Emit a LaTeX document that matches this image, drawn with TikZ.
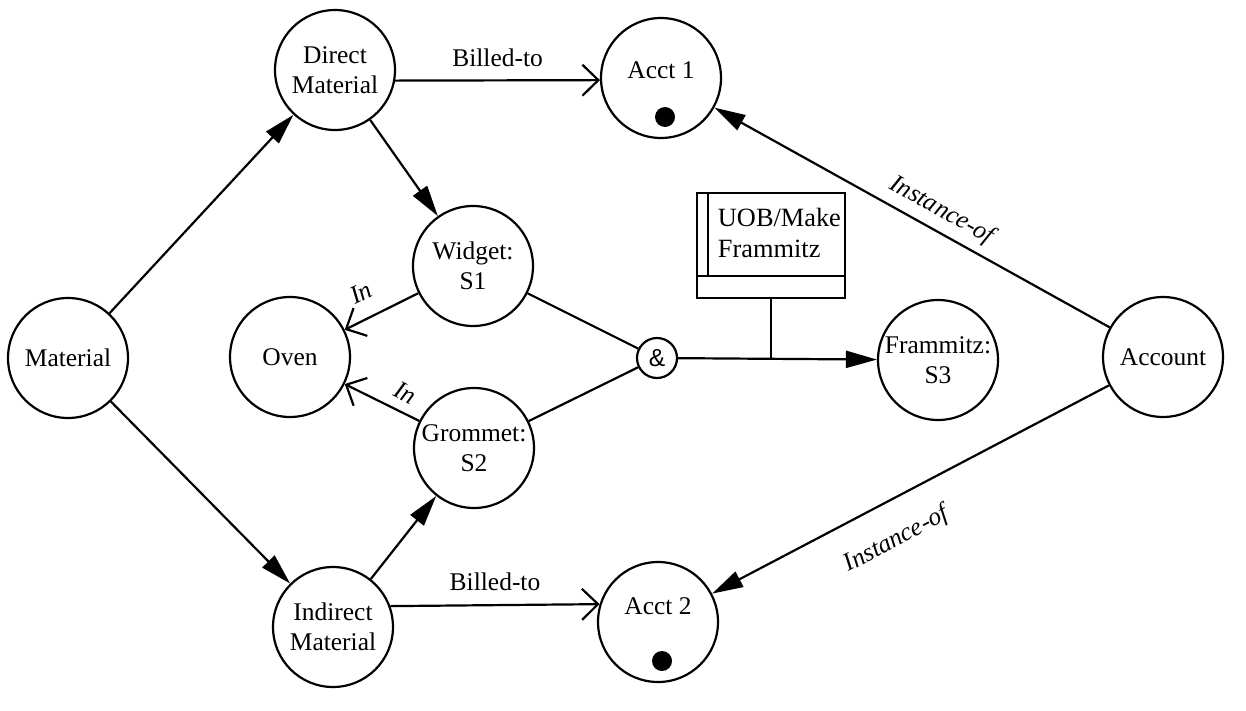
\documentclass[tikz,border=0pt]{standalone}
\usepackage{fontspec}
\setmainfont{Liberation Serif}
\newfontfamily\ampfont{Liberation Sans}
\usetikzlibrary{arrows.meta,calc}

\begin{document}
\begin{tikzpicture}[x=0.02cm,y=-0.02cm,line width=1.25pt,
    concept/.style={draw,circle,minimum size=2.4cm,inner sep=0pt,align=center,font=\fontsize{14.5}{17}\selectfont},
    andnode/.style={draw,circle,minimum size=0.8cm,inner sep=0pt,font=\ampfont\fontsize{14}{16}\selectfont},
    dot/.style={circle,fill,inner sep=0pt,minimum size=0.4cm},
    ref/.style={-{Triangle[length=0.62cm,width=0.34cm]}},
    revref/.style={{Triangle[length=0.62cm,width=0.34cm]}-},
    rel/.style={-{Straight Barb[length=0.32cm,width=0.62cm]}},
    revrel/.style={{Straight Barb[length=0.32cm,width=0.62cm]}-},
    lbl/.style={font=\fontsize{14.5}{17}\selectfont},
    ilbl/.style={font=\fontsize{14.5}{17}\selectfont\itshape}]
        \useasboundingbox (0,0) rectangle (1246,710);
        % concepts
        \node[concept] (mat) at (68,358) {Material};
        \node[concept] (dmat) at (335,70) {Direct\\Material};
        \node[concept] (imat) at (333,627) {Indirect\\Material};
        \node[concept] (widget) at (473,266) {Widget:\\S1};
        \node[concept] (oven) at (290,357) {Oven};
        \node[concept] (grommet) at (474,448) {Grommet:\\S2};
        \node[concept] (fram) at (938,360) {Frammitz:\\S3};
        \node[concept] (account) at (1163,357) {Account};
        \node[concept] (acct1) at (661,78) {};
        \node[lbl] (acct1t) at ($(acct1)+(0,-8)$) {Acct 1};
        \node[dot] (dot1) at ($(acct1)+(4,39)$) {};
        \node[concept] (acct2) at (658,622) {};
        \node[lbl] (acct2t) at ($(acct2)+(0,-16)$) {Acct 2};
        \node[dot] (dot2) at ($(acct2)+(4,39)$) {};
        \node[andnode] (amp) at (657,358) {\&};
        % process box
        \node[draw,minimum width=2.96cm,minimum height=2.1cm,inner sep=0pt] (uob) at (771,245.5) {};
        \draw ($(uob.south west)+(0,-23)$) -- ($(uob.south east)+(0,-23)$);
        \draw ($(uob.north west)+(12,0)$) -- ($(uob.south west)+(12,-23)$);
        \node[lbl,align=left,anchor=west,font=\fontsize{15}{17.5}\selectfont] (uobt) at (711,233) {UOB/Make\\Frammitz};
        % links
        \draw[ref] (mat) -- (dmat);
        \draw[ref] (mat) -- (imat);
        \draw[ref] (dmat) -- (widget);
        \draw[ref] (imat) -- (grommet);
        \draw[rel] (dmat.-10) -- node[lbl,above=4pt] {Billed-to} (acct1.182);
        \draw[rel] (imat.20) -- node[lbl,above=4pt] {Billed-to} (acct2.163);
        \draw[revrel] (oven) -- node[ilbl,sloped,above=6pt,pos=0.38] {In} (widget);
        \draw[revrel] (oven) -- node[ilbl,sloped,above=2pt,pos=0.7] {In} (grommet);
        \draw (widget) -- (amp);
        \draw (grommet) -- (amp);
        \draw[ref] (amp) -- (fram);
        \coordinate (join) at (uob.south |- amp);
        \draw (uob.south) -- (join);
        \draw[revref] (acct1) -- node[ilbl,sloped,above=1pt,pos=0.55] {Instance-of} (account);
        \draw[revref] (acct2) -- node[ilbl,sloped,below=11pt,pos=0.42] {Instance-of} (account);
    \end{tikzpicture}
\end{document}
